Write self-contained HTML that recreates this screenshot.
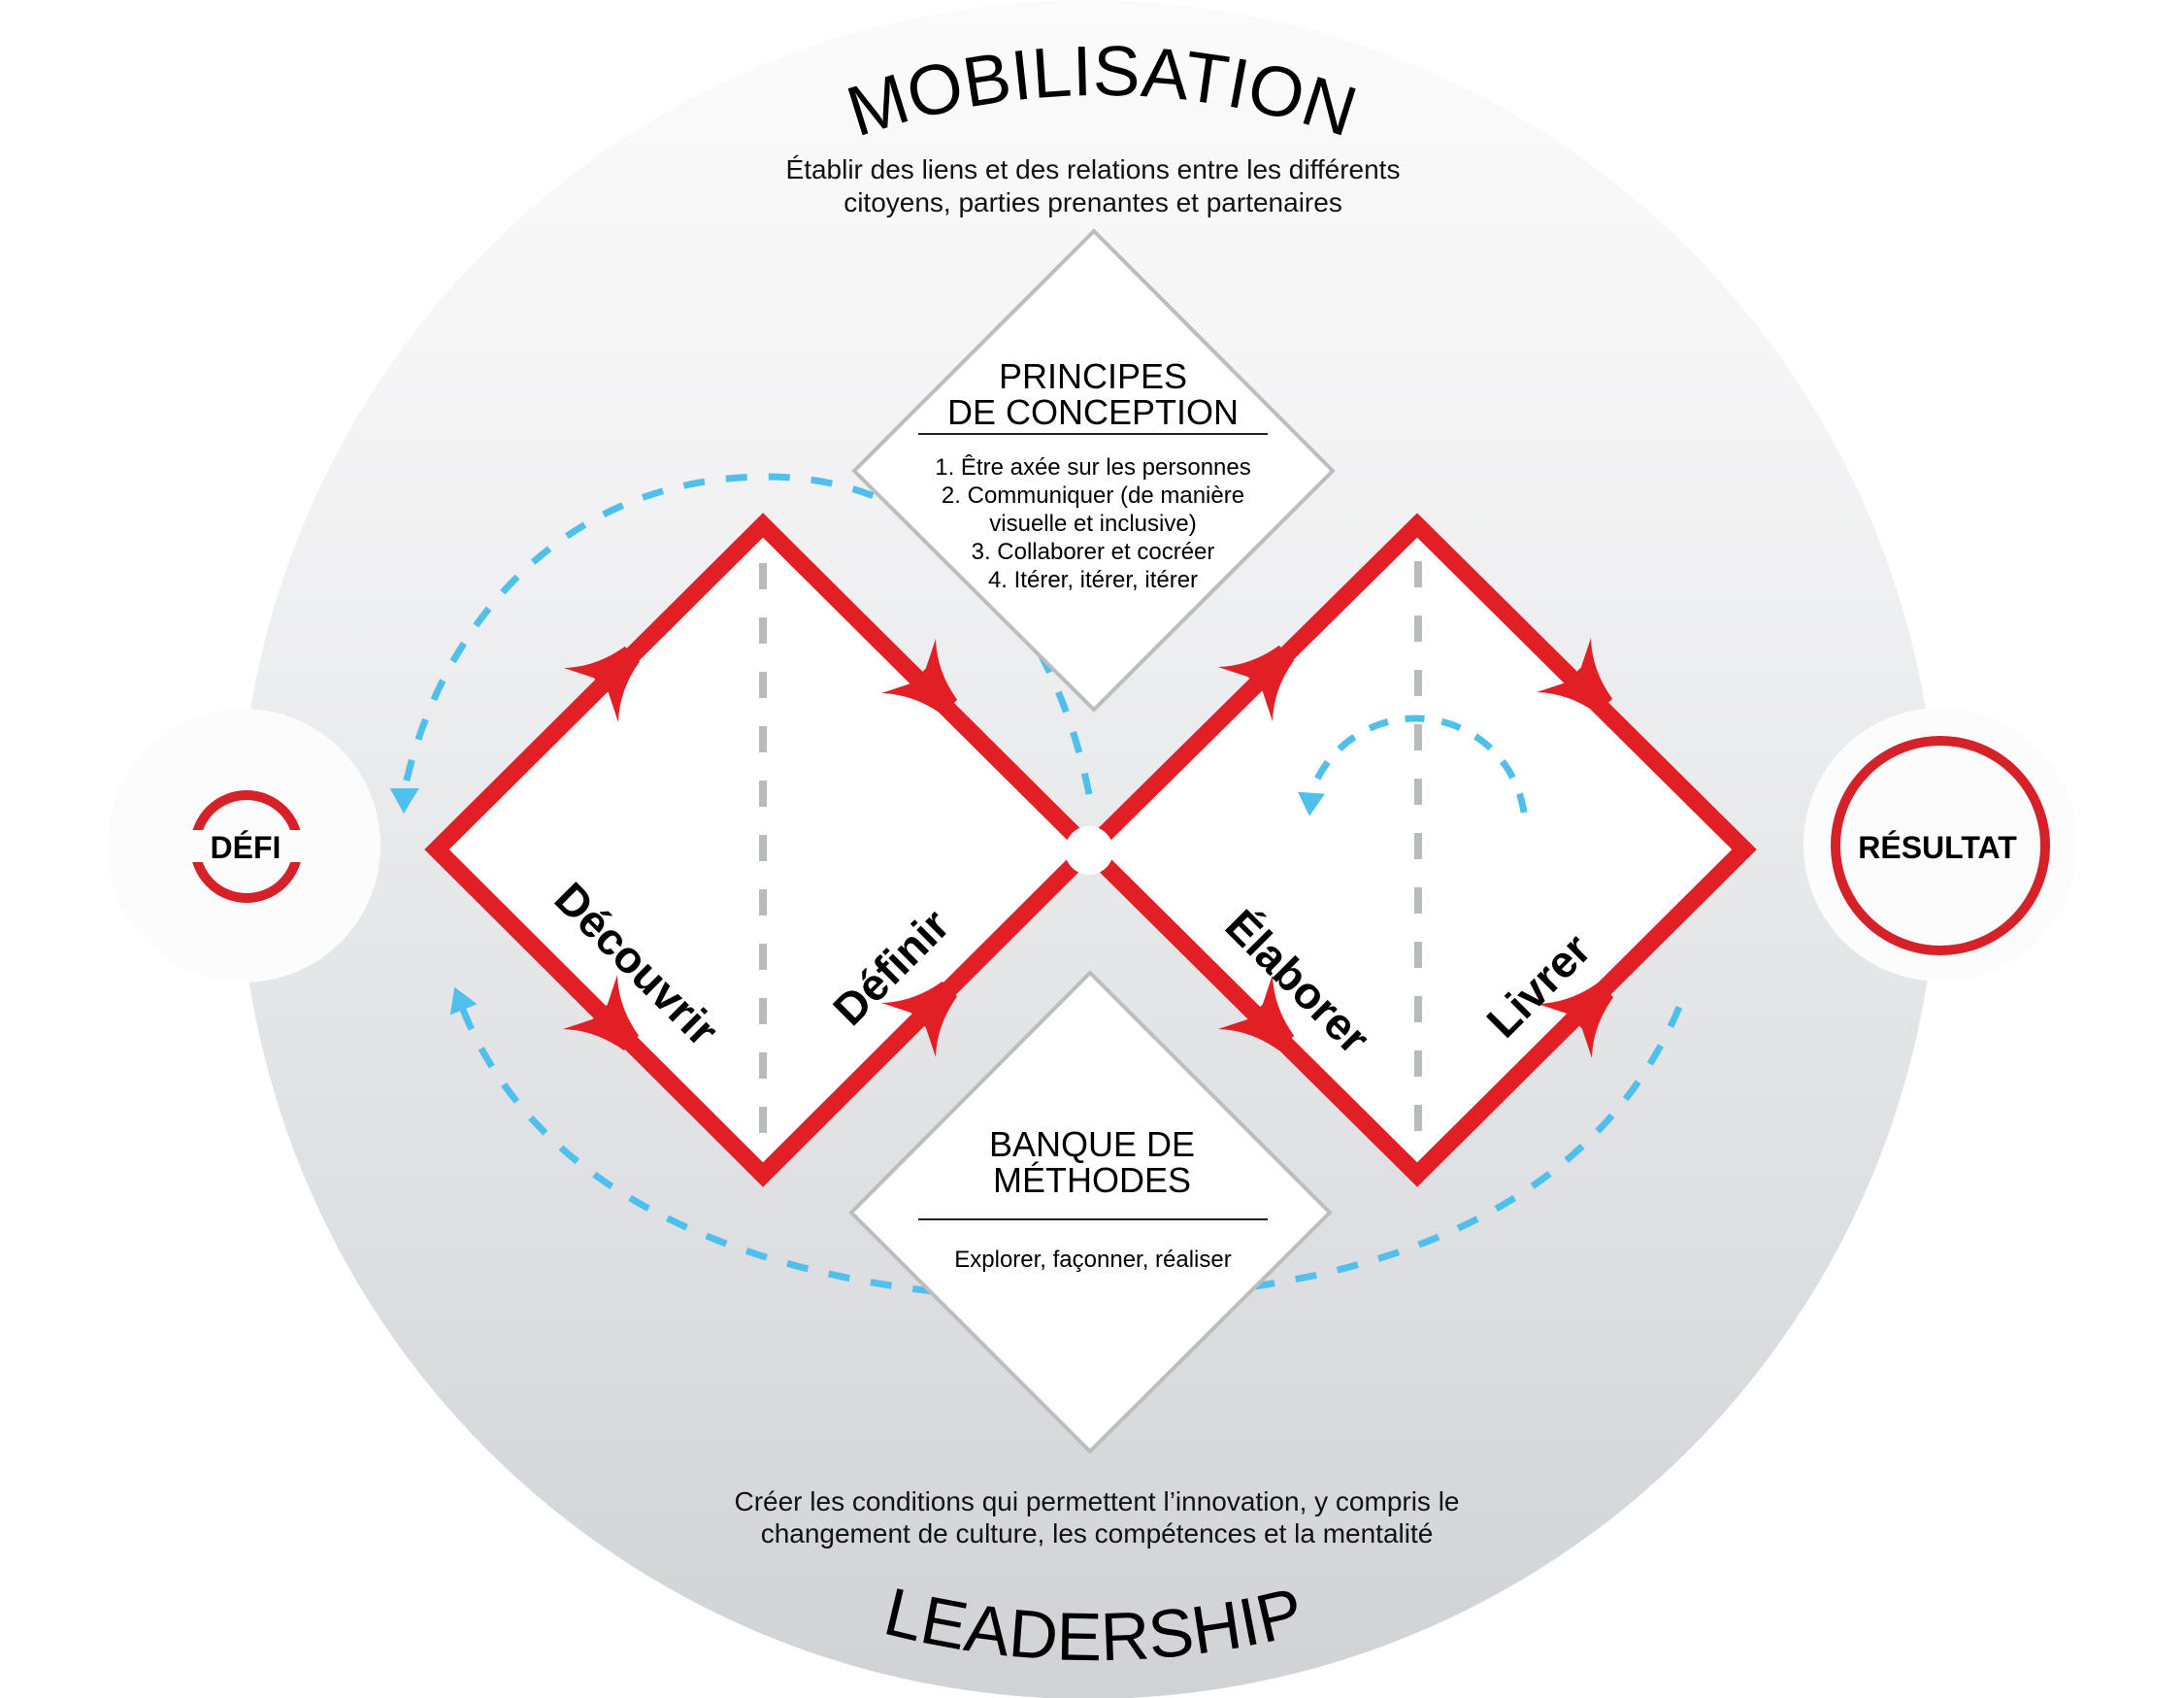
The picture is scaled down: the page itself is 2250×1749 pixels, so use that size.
<!DOCTYPE html>
<html>
<head>
<meta charset="utf-8">
<style>
html,body{margin:0;padding:0;background:#ffffff;}
svg{display:block;}
</style>
</head>
<body>
<svg width="2250" height="1749" viewBox="0 0 2250 1749" xmlns="http://www.w3.org/2000/svg" xmlns:xlink="http://www.w3.org/1999/xlink" font-family="'Liberation Sans', Arial, sans-serif">
<defs>
  <linearGradient id="bg" x1="0" y1="0" x2="0" y2="1749" gradientUnits="userSpaceOnUse">
    <stop offset="0" stop-color="#fbfbfb"/>
    <stop offset="0.22" stop-color="#f5f5f6"/>
    <stop offset="0.5" stop-color="#e8e9eb"/>
    <stop offset="0.75" stop-color="#dcdee1"/>
    <stop offset="1" stop-color="#d0d2d5"/>
  </linearGradient>
  <path id="arcTop" d="M 385 848 A 750 750 0 0 1 1885 848"/>
  <path id="arcBot" d="M 267 850 A 860 860 0 0 0 1987 850"/>
  <path id="ah" d="M 12,-9 L 0,-33 Q 20,-14 50,-9 L 50,9 Q 20,14 0,33 L 12,9 Z"/>
</defs>

<!-- background -->
<rect x="0" y="0" width="2250" height="1749" fill="#ffffff"/>
<circle cx="1121" cy="875" r="875" fill="url(#bg)"/>

<!-- side discs -->
<circle cx="251" cy="871" r="141" fill="#fcfcfc"/>
<circle cx="1999" cy="870" r="141" fill="#fcfcfc"/>

<!-- big blue dashed arcs -->
<g fill="none" stroke="#4fbfec" stroke-width="7" stroke-dasharray="22 22">
  <path d="M 1122 818 C 1086 638, 973 491, 790 491 C 585 491, 455 639, 417 812"/>
  <path d="M 477 1040 C 562 1253, 825 1338, 1105 1338 C 1385 1338, 1640 1262, 1733 1030"/>
</g>
<g fill="#4fbfec">
  <polygon points="416,838 401.7,812 431.7,812"/>
  <polygon points="468.3,1016.7 491.5,1034.3 463.7,1045.5"/>
</g>

<!-- principles / methods diamonds -->
<polygon points="1127,238 1373,485 1127,731 880,485" fill="#ffffff" stroke="#bdbdbd" stroke-width="4"/>
<polygon points="1123,1002 1370,1249 1123,1495 877,1249" fill="#ffffff" stroke="#bdbdbd" stroke-width="4"/>

<!-- red diamonds -->
<g fill="#ffffff" stroke="#e31f26" stroke-width="18" stroke-linejoin="miter">
  <polygon points="450,875 786,541 1122,875 786,1210"/>
  <polygon points="1122,875 1460,541 1797,875 1460,1210"/>
</g>

<!-- gray dashed verticals -->
<g stroke="#b9babc" stroke-width="8" stroke-dasharray="27 29">
  <line x1="786" y1="580" x2="786" y2="1172"/>
  <line x1="1461" y1="578" x2="1461" y2="1172"/>
</g>

<!-- small blue arc -->
<path d="M 1570 837 A 113 113 0 0 0 1351 817" fill="none" stroke="#4fbfec" stroke-width="7" stroke-dasharray="20 18"/>
<polygon points="1349,840.6 1337,815.7 1365,817.6" fill="#4fbfec"/>

<!-- red arrowheads -->
<g fill="#e31f26">
  <use href="#ah" xlink:href="#ah" transform="translate(609 716) rotate(-45) scale(1.2)"/>
  <use href="#ah" xlink:href="#ah" transform="translate(936 686) rotate(45) scale(1.2)"/>
  <use href="#ah" xlink:href="#ah" transform="translate(608 1032) rotate(45) scale(1.2)"/>
  <use href="#ah" xlink:href="#ah" transform="translate(936 1061) rotate(-45) scale(1.2)"/>
  <use href="#ah" xlink:href="#ah" transform="translate(1283 715) rotate(-45) scale(1.2)"/>
  <use href="#ah" xlink:href="#ah" transform="translate(1611 685) rotate(45) scale(1.2)"/>
  <use href="#ah" xlink:href="#ah" transform="translate(1283 1032) rotate(45) scale(1.2)"/>
  <use href="#ah" xlink:href="#ah" transform="translate(1612 1062) rotate(-45) scale(1.2)"/>
</g>

<!-- center dot -->
<circle cx="1122" cy="876" r="25" fill="#ffffff"/>

<!-- DÉFI -->
<circle cx="254" cy="872" r="53" fill="none" stroke="#d62128" stroke-width="10"/>
<rect x="190" y="855" width="130" height="33" fill="#fcfcfc"/>
<text x="253" y="884" font-size="32" font-weight="bold" text-anchor="middle" fill="#000">DÉFI</text>

<!-- RÉSULTAT -->
<circle cx="1999" cy="871" r="108" fill="none" stroke="#d62128" stroke-width="10"/>
<text x="1996" y="884" font-size="32" font-weight="bold" text-anchor="middle" fill="#000">RÉSULTAT</text>

<!-- arched titles -->
<text font-size="73" fill="#000"><textPath href="#arcTop" xlink:href="#arcTop" startOffset="50%" text-anchor="middle">MOBILISATION</textPath></text>
<text font-size="70" fill="#000"><textPath href="#arcBot" xlink:href="#arcBot" startOffset="50%" text-anchor="middle">LEADERSHIP</textPath></text>

<!-- top subtitle -->
<g font-size="28" fill="#111" text-anchor="middle">
  <text x="1126" y="184">Établir des liens et des relations entre les différents</text>
  <text x="1126" y="218">citoyens, parties prenantes et partenaires</text>
</g>

<!-- bottom subtitle -->
<g font-size="28" fill="#111" text-anchor="middle">
  <text x="1130" y="1556">Créer les conditions qui permettent l’innovation, y compris le</text>
  <text x="1130" y="1589">changement de culture, les compétences et la mentalité</text>
</g>

<!-- principles text -->
<g fill="#000" text-anchor="middle">
  <text x="1126" y="400" font-size="36">PRINCIPES</text>
  <text x="1126" y="437" font-size="36">DE CONCEPTION</text>
</g>
<line x1="946" y1="447" x2="1306" y2="447" stroke="#222" stroke-width="2"/>
<g fill="#000" text-anchor="middle" font-size="24">
  <text x="1126" y="489">1. Être axée sur les personnes</text>
  <text x="1126" y="518">2. Communiquer (de manière</text>
  <text x="1126" y="547">visuelle et inclusive)</text>
  <text x="1126" y="576">3. Collaborer et cocréer</text>
  <text x="1126" y="605">4. Itérer, itérer, itérer</text>
</g>

<!-- methods text -->
<g fill="#000" text-anchor="middle">
  <text x="1125" y="1191" font-size="36">BANQUE DE</text>
  <text x="1125" y="1228" font-size="36">MÉTHODES</text>
</g>
<line x1="946" y1="1256" x2="1306" y2="1256" stroke="#222" stroke-width="2"/>
<text x="1126" y="1305" font-size="24" text-anchor="middle" fill="#000">Explorer, façonner, réaliser</text>

<!-- phase labels -->
<g font-size="46" font-weight="bold" fill="#000" text-anchor="middle" dominant-baseline="central">
  <text x="656" y="993" transform="rotate(45 656 993)">Découvrir</text>
  <text x="918" y="996" transform="rotate(-45 918 996)">Définir</text>
  <text x="1337" y="1011" transform="rotate(45 1337 1011)">Élaborer</text>
  <text x="1585" y="1015" transform="rotate(-45 1585 1015)">Livrer</text>
</g>
</svg>
</body>
</html>
